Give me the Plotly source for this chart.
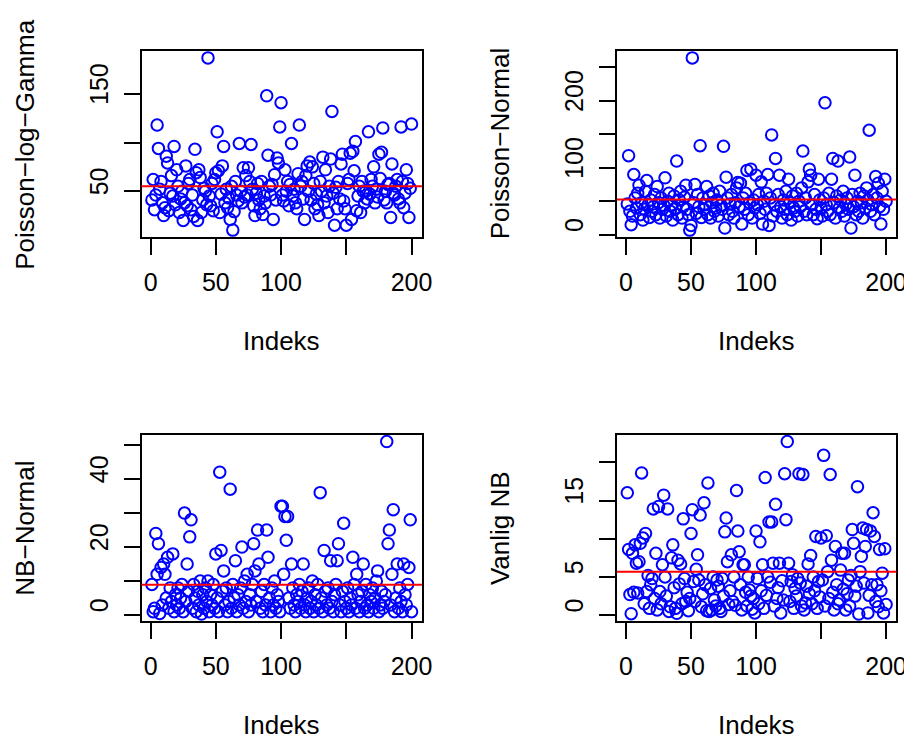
import plotly.graph_objects as go

# ---------------- data ----------------
index = list(range(1, 201))

plg = [41, 62, 31, 46, 118, 94, 52, 60, 38, 25,
       33, 86, 79, 30, 48, 66, 45, 96, 36, 72,
       55, 28, 42, 50, 20, 38, 76, 35, 58, 62,
       31, 46, 24, 93, 69, 20, 72, 64, 28, 41,
       53, 50, 36, 187, 45, 35, 58, 30, 62, 69,
       111, 71, 28, 47, 76, 96, 38, 52, 33, 43,
       21, 55, 10, 29, 60, 46, 40, 99, 50, 38,
       74, 44, 66, 46, 74, 60, 98, 52, 35, 25,
       48, 58, 41, 32, 60, 26, 45, 38, 148, 87,
       55, 46, 57, 21, 67, 41, 84, 79, 116, 141,
       46, 40, 72, 50, 60, 35, 57, 99, 45, 52,
       38, 32, 68, 118, 55, 60, 42, 21, 66, 76,
       50, 80, 41, 75, 58, 32, 47, 36, 25, 60,
       50, 85, 38, 72, 45, 28, 55, 83, 132, 48,
       15, 54, 32, 60, 42, 78, 88, 40, 32, 15,
       58, 62, 89, 21, 91, 71, 101, 30, 45, 55,
       28, 60, 50, 38, 50, 42, 111, 47, 62, 55,
       75, 38, 52, 44, 88, 63, 90, 115, 41, 50,
       38, 57, 58, 23, 78, 48, 46, 55, 62, 42,
       38, 116, 60, 33, 48, 72, 58, 23, 53, 119]

pn = [46, 118, 35, 15, 28, 90, 55, 40, 62, 74,
      30, 48, 22, 38, 65, 81, 45, 26, 52, 35,
      42, 60, 30, 72, 48, 25, 55, 38, 44, 85,
      28, 50, 62, 35, 45, 22, 58, 40, 110, 30,
      52, 65, 25, 42, 56, 74, 38, 30, 7, 14,
      264, 48, 75, 32, 60, 42, 133, 26, 55, 38,
      45, 72, 30, 58, 25, 48, 62, 35, 40, 52,
      28, 65, 44, 38, 132, 10, 86, 55, 30, 46,
      60, 35, 25, 48, 70, 78, 42, 77, 16, 55,
      38, 62, 96, 30, 48, 98, 25, 52, 40, 89,
      45, 60, 32, 79, 16, 50, 38, 62, 90, 14,
      55, 149, 28, 45, 114, 35, 60, 89, 42, 25,
      52, 38, 65, 30, 83, 48, 22, 58, 40, 35,
      62, 28, 50, 42, 70, 125, 35, 55, 30, 79,
      98, 89, 45, 30, 60, 38, 24, 83, 52, 40,
      28, 55, 197, 45, 35, 62, 30, 83, 114, 48,
      25, 58, 110, 40, 52, 35, 65, 28, 45, 55,
      38, 116, 10, 60, 42, 89, 30, 50, 35, 62,
      48, 25, 58, 40, 70, 52, 156, 35, 45, 60,
      30, 87, 55, 77, 42, 16, 65, 38, 83, 50]

nbn = [9, 1, 2, 24, 12, 21, 0.5, 14, 3, 15,
       12, 5, 17, 2, 8, 4, 18, 1, 6, 3,
       8, 2, 5, 9, 1, 30, 4, 15, 7, 23,
       28, 2, 9, 5, 1, 7, 3, 10, 0.3, 6,
       2, 8, 4, 10, 1, 6, 3, 9, 2, 18,
       5, 1, 42, 19, 7, 13, 3, 8, 1, 4,
       37, 2, 9, 5, 16, 1, 6, 3, 8, 20,
       2, 10, 4, 12, 1, 6, 3, 9, 21, 13,
       4, 25, 15, 2, 7, 1, 9, 3, 25, 17,
       5, 1, 8, 3, 10, 2, 6, 4, 1, 32,
       32, 12, 29, 22, 29, 5, 2, 15, 8, 3,
       1, 6, 4, 9, 2, 7, 15, 3, 1, 5,
       8, 2, 4, 10, 1, 6, 3, 9, 2, 36,
       5, 1, 19, 7, 3, 8, 2, 16, 4, 1,
       6, 9, 16, 21, 3, 1, 7, 27, 4, 2,
       8, 1, 5, 3, 17, 9, 2, 12, 6, 1,
       4, 7, 15, 2, 9, 3, 1, 6, 4, 8,
       2, 5, 10, 13, 1, 3, 7, 2, 4, 6,
       51, 21, 25, 3, 12, 31, 1, 5, 15, 2,
       8, 4, 1, 15, 6, 3, 9, 14, 28, 1]

vnb = [16, 8.6, 2.7, 0.2, 8.1, 3, 9.2, 6.8, 2.9, 7,
       9.4, 18.6, 10.1, 1.5, 10.7, 3.1, 5.2, 0.9, 4, 4.8,
       13.9, 2.2, 8.1, 0.7, 14.2, 3.1, 1.5, 6.6, 15.7, 5,
       2.5, 13.9, 0.5, 1.1, 7.5, 9.2, 3.6, 0.9, 0.25, 7.2,
       4.1, 6.7, 1.5, 12.6, 4.8, 1.8, 3, 0.6, 2.2, 10.7,
       13.8, 4.4, 1.8, 6, 7.9, 4.6, 13.1, 1.1, 2.8, 14.7,
       4, 0.6, 17.3, 0.5, 3.5, 0.7, 5, 2, 1.2, 4.6,
       3.8, 0.9, 0.5, 4.8, 2.5, 10.9, 12.7, 7, 1.4, 3.2,
       7.9, 1.8, 5, 1.3, 16.3, 11, 8.3, 4, 0.7, 6.6,
       6.6, 3, 1.2, 5, 3.3, 2.5, 0.8, 2.2, 0.3, 11,
       4.8, 1.5, 9.6, 3.2, 6.6, 0.9, 18, 2.6, 5, 12.2,
       4.3, 12.2, 6.8, 1.2, 14.5, 2.2, 3.6, 6.8, 0.3, 4.5,
       2, 18.5, 12.5, 22.7, 6.8, 1.8, 4.4, 5.3, 0.9, 3.5,
       2.5, 4.8, 18.5, 4.2, 1.2, 18.4, 0.7, 1.6, 3.8, 6.7,
       2.8, 7.8, 1.5, 5, 3.2, 10.3, 0.9, 4.4, 2.4, 10.1,
       4.6, 20.9, 1.2, 10.4, 5.7, 2.2, 18.4, 7.2, 3, 0.7,
       9, 4, 1.5, 2, 5.9, 8.1, 3.4, 8.1, 0.7, 2.8,
       4.6, 1.2, 5.2, 11.2, 9.4, 2.5, 3.8, 16.8, 0.15, 5.7,
       7.7, 11.4, 4.2, 9, 11.2, 0.3, 2.6, 11, 4, 13.4,
       10.3, 1.8, 4, 1.1, 8.6, 3.2, 5.5, 0.3, 8.7, 1.4]

series = [plg, pn, nbn, vnb]
ylabels = ["Poisson\u2212log\u2212Gamma", "Poisson\u2212Normal", "NB\u2212Normal", "Vanlig NB"]
ref_lines = [55.1, 52.5, 8.9, 5.7]
xlabel = "Indeks"

x_tickvals = [0, 50, 100, 150, 200]
x_ticktext = ["0", "50", "100", "", "200"]
y_tickvals = [[50, 100, 150],
              [0, 50, 100, 150, 200, 250],
              [0, 10, 20, 30, 40, 50],
              [0, 5, 10, 15, 20]]
y_ticktext = [["50", "", "150"],
              ["0", "", "100", "", "200", ""],
              ["0", "", "20", "", "40", ""],
              ["0", "5", "", "15", ""]]

# ---------------- layout geometry ----------------
W, H = 912, 740
FONT = "Liberation Sans, Arial, Helvetica, sans-serif"
boxes = [(135, 418.5, 43, 229), (615.7, 898.3, 43, 229),
         (135, 418.5, 426.7, 613), (615.7, 898.3, 426.7, 613)]


def r_range(vals):
    lo, hi = min(vals), max(vals)
    d = (hi - lo) * 0.04
    return [lo - d, hi + d]


fig = go.Figure()
layout = dict(width=W, height=H, margin=dict(l=0, r=0, t=0, b=0),
              plot_bgcolor="white", paper_bgcolor="white",
              showlegend=False, font=dict(family=FONT, size=25, color="black"))
shapes = []
annotations = []

for k, (vals, (x0, x1, y0, y1)) in enumerate(zip(series, boxes)):
    n = "" if k == 0 else str(k + 1)
    fig.add_trace(go.Scatter(
        x=index, y=vals, mode="markers", xaxis="x" + n, yaxis="y" + n,
        marker=dict(symbol="circle-open", size=11.5, color="#0000FF",
                    line=dict(width=2, color="#0000FF")),
        hoverinfo="x+y"))
    common = dict(showgrid=False, zeroline=False, showline=True, mirror=True,
                  linecolor="black", linewidth=1.8, ticks="outside", ticklen=16,
                  tickwidth=1.8, tickcolor="black",
                  tickfont=dict(family=FONT, size=25, color="black"))
    layout["xaxis" + n] = dict(common, domain=[x0 / W, x1 / W],
                               anchor="y" + n, range=r_range(index),
                               tickmode="array", tickvals=x_tickvals,
                               ticktext=x_ticktext, ticklabelstandoff=6)
    layout["yaxis" + n] = dict(common, domain=[1 - y1 / H, 1 - y0 / H],
                               anchor="x" + n, range=r_range(vals),
                               tickmode="array", tickvals=y_tickvals[k],
                               ticktext=y_ticktext[k], tickangle=-90,
                               ticklabelstandoff=6, ticklabelshift=-6)
    shapes.append(dict(type="line", xref="x" + n + " domain", x0=0, x1=1,
                       yref="y" + n, y0=ref_lines[k], y1=ref_lines[k],
                       line=dict(color="#FF0000", width=2)))
    # x title
    annotations.append(dict(text=xlabel, xref="paper", yref="paper",
                            x=((x0 + x1) / 2) / W, y=1 - (y1 + 104) / H,
                            xanchor="center", yanchor="middle", showarrow=False,
                            font=dict(family=FONT, size=26, color="black")))
    # y title
    annotations.append(dict(text=ylabels[k], xref="paper", yref="paper",
                            x=(x0 - 118) / W, y=1 - ((y0 + y1) / 2) / H,
                            xanchor="center", yanchor="middle", textangle=-90,
                            showarrow=False,
                            font=dict(family=FONT, size=26, color="black")))

layout["shapes"] = shapes
layout["annotations"] = annotations
fig.update_layout(**layout)
fig.write_html("out.html")
